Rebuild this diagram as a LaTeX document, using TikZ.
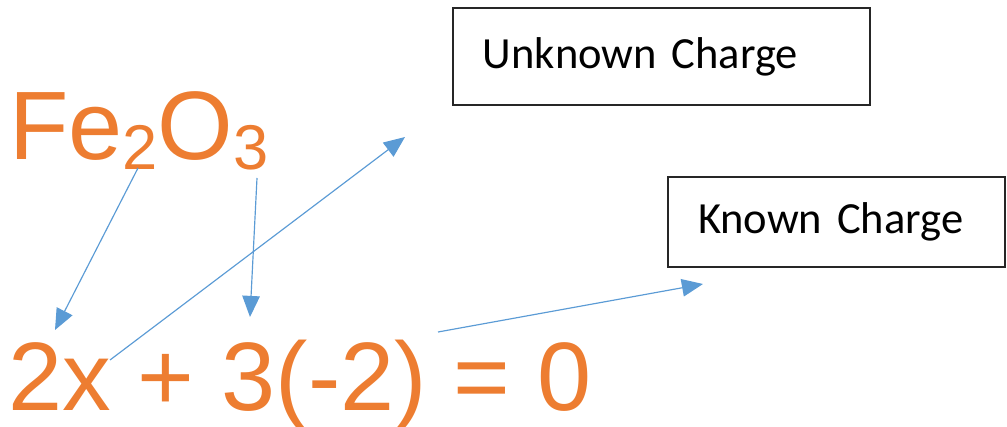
\documentclass[tikz,border=0pt]{standalone}
\usepackage{fontspec}
\setmainfont{Carlito}
\newfontfamily\arialfont{Liberation Sans}
\usetikzlibrary{arrows.meta}
\definecolor{chemorange}{HTML}{ED7D31}
\definecolor{arrowblue}{HTML}{5B9BD5}

\begin{document}
\begin{tikzpicture}[x=0.03cm, y=-0.03cm,
    pointer/.style={arrowblue, line width=1pt, -{Triangle[length=18pt, width=15pt]}},
    chem/.style={chemorange, inner sep=0, anchor=base west, font=\arialfont\fontsize{83}{90}\selectfont},
    chargebox/.style={draw=black!85, line width=1pt, inner xsep=0.9cm, align=left, font=\fontsize{38}{44}\selectfont}]
    \useasboundingbox (0,0) rectangle (1007,427);

    % 化学式与方程
    \node[chem] (formula) at (9,160) {Fe\raisebox{-0.3cm}{\fontsize{54}{58}\selectfont 2}O\raisebox{-0.3cm}{\fontsize{54}{58}\selectfont 3}};
    \node[chem] (equation) at (8,410) {2x + 3(-2) = 0};

    % 标签框
    \node[chargebox, minimum width=12.51cm, minimum height=2.91cm, text width=10.71cm] (unknown) at (661.5,56.5) {Unknown Charge};
    \node[chargebox, minimum width=10.11cm, minimum height=2.7cm, text width=8.31cm] (known) at (836.5,222) {Known Charge};

    % 箭头起点和终点
    \coordinate (sub2) at (138,168);
    \coordinate (sub3) at (257,178);
    \coordinate (xvar) at (110,360);
    \coordinate (paren) at (438,332);
    \coordinate (twotip) at (55,330);
    \coordinate (threetip) at (250,317);
    \coordinate (unknowntip) at (405,137);
    \coordinate (knowntip) at (703,284);

    % 箭头
    \draw[pointer] (sub2) -- (twotip);
    \draw[pointer] (sub3) -- (threetip);
    \draw[pointer] (xvar) -- (unknowntip);
    \draw[pointer] (paren) -- (knowntip);
\end{tikzpicture}
\end{document}
